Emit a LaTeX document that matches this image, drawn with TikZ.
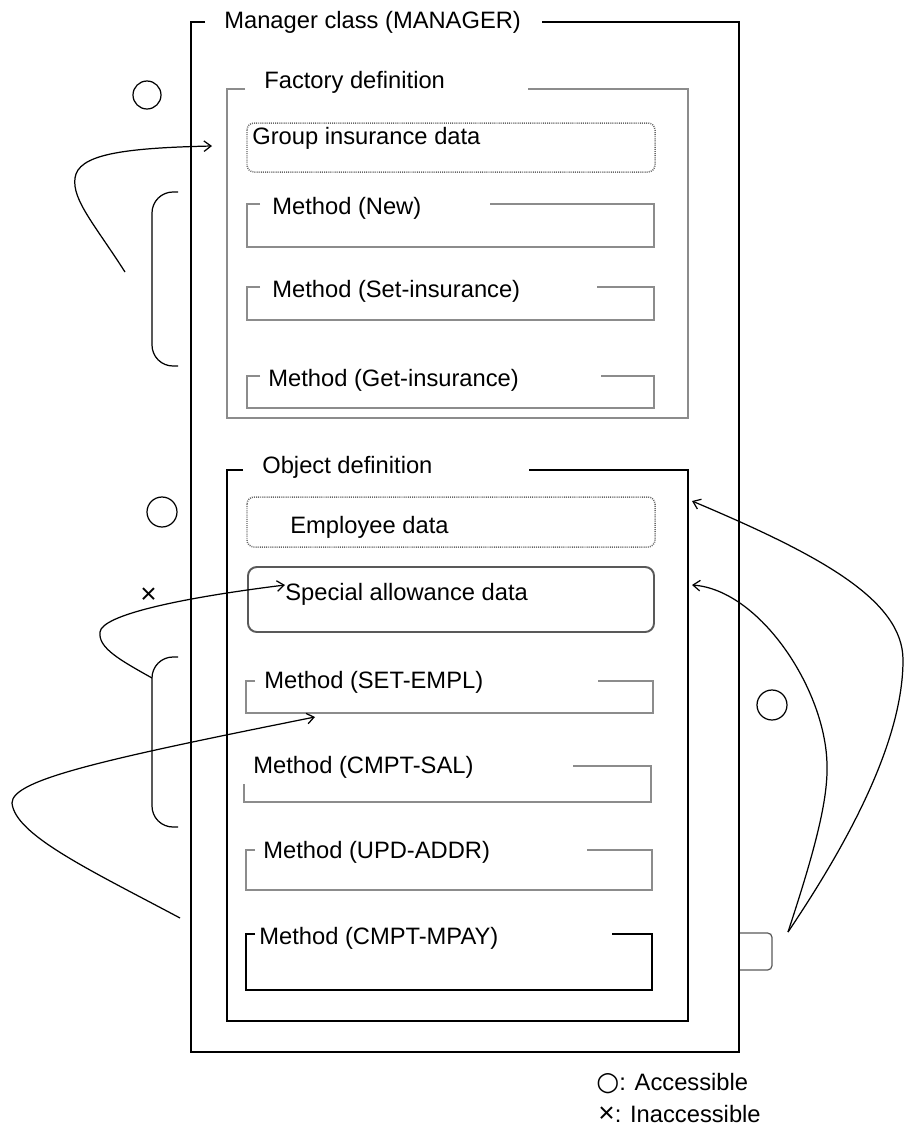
\documentclass[tikz,border=0pt]{standalone}
\usepackage{fontspec}
\setmainfont{Liberation Sans}
\newfontfamily\symfont{DejaVu Sans}
\usetikzlibrary{arrows.meta}
\tikzset{>={Straight Barb[length=4pt,width=6pt]}}
\colorlet{framegray}{black!45}
\colorlet{boxgray}{black!65}
\tikzstyle{frame}=[draw=black,line width=0.95pt]
\tikzstyle{lightframe}=[draw=framegray,line width=0.8pt]
\tikzstyle{databox}=[draw=black!60,line width=0.85pt,dash pattern=on 0.55pt off 0.65pt,rounded corners=4pt]
\tikzstyle{boxtext}=[anchor=west,inner sep=0,font=\fontsize{13.5}{15}\selectfont]
\tikzstyle{access}=[line width=0.7pt]
\tikzstyle{link}=[->,line width=0.7pt]

\begin{document}
\begin{tikzpicture}[x=0.02cm,y=-0.02cm]
  \useasboundingbox (0,0) rectangle (904,1140);

  % MANAGER CLASS
  \node[boxtext] (mgr) at (224,22) {Manager class (MANAGER)};
  \draw[frame] (205,22) -- (191,22) -- (191,1052) -- (739,1052) -- (739,22) -- (542,22);

  % FACTORY DEFINITION
  \node[boxtext] (fac) at (264,82) {Factory definition};
  \draw[lightframe] (245,89) -- (227,89) -- (227,418) -- (688,418) -- (688,89) -- (528,89);
  \draw[databox] (247,123) rectangle (655,172);
  \node[boxtext] (grp) at (252,138) {Group insurance data};
  \foreach \t/\b/\g/\x/\txt [count=\i] in
    {204/247/490/272/New, 287/320/597/272/Set-insurance, 376/408/601/268/Get-insurance}{
    \node[boxtext] (fm\i) at (\x,\t+4) {Method (\txt)};
    \draw[lightframe] (260,\t) -- (247,\t) -- (247,\b) -- (654,\b) -- (654,\t) -- (\g,\t);
  }

  % OBJECT DEFINITION
  \node[boxtext] (obj) at (262,467) {Object definition};
  \draw[frame] (243,470) -- (227,470) -- (227,1021) -- (688,1021) -- (688,470) -- (529,470);
  \draw[databox] (247,497) rectangle (655,547);
  \node[boxtext] (emp) at (290,527) {Employee data};
  \draw[draw=boxgray,line width=1.1pt,rounded corners=5pt] (248,567) rectangle (654,632);
  \node[boxtext] (spc) at (285,594) {Special allowance data};

  \node[boxtext] (setempl) at (264,682) {Method (SET-EMPL)};
  \draw[lightframe] (255,681) -- (246,681) -- (246,713) -- (653,713) -- (653,681) -- (598,681);
  \node[boxtext] (cmptsal) at (253,767) {Method (CMPT-SAL)};
  \draw[lightframe] (244,784) -- (244,802) -- (651,802) -- (651,766) -- (573,766);
  \node[boxtext] (updaddr) at (263,852) {Method (UPD-ADDR)};
  \draw[lightframe] (255,850) -- (246,850) -- (246,890) -- (652,890) -- (652,850) -- (587,850);
  \node[boxtext] (cmptmpay) at (259,938) {Method (CMPT-MPAY)};
  \draw[frame] (255,934) -- (246,934) -- (246,990) -- (652,990) -- (652,934) -- (612,934);

  % ACCESS MARKS
  \draw[access] (147,95) circle[radius=0.28cm];
  \draw[access] (162,512) circle[radius=0.3cm];
  \draw[access] (772,705) circle[radius=0.3cm];
  \node[boxtext,font=\fontsize{16}{16}\selectfont] (ng) at (140,596) {×};
  \draw[access,rounded corners=0.42cm] (178,192) -- (152,192) -- (152,366) -- (178,366);
  \draw[access,rounded corners=0.42cm] (178,657) -- (152,657) -- (152,827) -- (178,827);
  \draw[access,draw=boxgray,rounded corners=2.5pt] (740,933) -- (772,933) -- (772,970) -- (740,970);

  % CALLS
  \coordinate (fstart) at (125,272);
  \coordinate (ostart) at (152,678);
  \coordinate (mstart) at (180,918);
  \coordinate (rstart) at (788,932);
  \coordinate (facin) at (212,146);
  \coordinate (spcin) at (285,585);
  \coordinate (setin) at (315,717);
  \coordinate (empin) at (692,501);
  \coordinate (objin) at (692,585);
  \draw[link] (fstart) .. controls (95,225) and (72,200) .. (75,178)
    .. controls (78,155) and (120,148) .. (facin);
  \draw[link] (ostart) .. controls (120,660) and (98,648) .. (100,632)
    .. controls (102,615) and (180,598) .. (spcin);
  \draw[link] (mstart) .. controls (90,870) and (15,835) .. (12,803)
    .. controls (12,780) and (100,760) .. (setin);
  \draw[link] (rstart) .. controls (850,840) and (903,740) .. (903,660)
    .. controls (903,600) and (820,555) .. (empin);
  \draw[link] (rstart) .. controls (815,850) and (828,800) .. (827,765)
    .. controls (826,690) and (760,590) .. (objin);

  % LEGEND
  \node[boxtext] (acc) at (596,1084) {{\symfont\fontsize{15}{15}\selectfont ○}: Accessible};
  \node[boxtext] (inacc) at (598,1114) {{\fontsize{16}{16}\selectfont ×}: Inaccessible};
\end{tikzpicture}
\end{document}
